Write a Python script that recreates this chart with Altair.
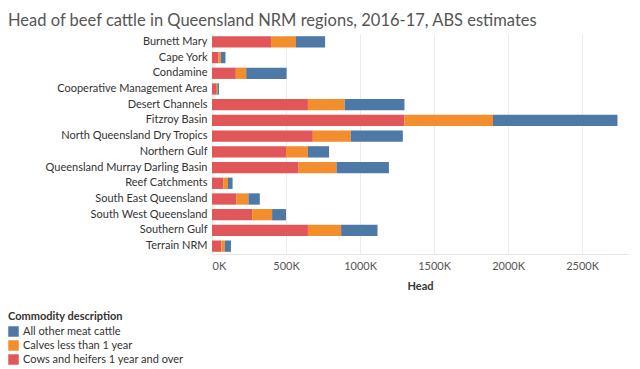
import altair as alt
import pandas as pd

regions = [
    "Burnett Mary", "Cape York", "Condamine", "Cooperative Management Area",
    "Desert Channels", "Fitzroy Basin", "North Queensland Dry Tropics",
    "Northern Gulf", "Queensland Murray Darling Basin", "Reef Catchments",
    "South East Queensland", "South West Queensland", "Southern Gulf", "Terrain NRM",
]
cows = [399000, 44000, 161000, 27000, 648000, 1300000, 681000, 500000, 585000, 76000, 166000, 271000, 648000, 63000]
calves = [168000, 16000, 70000, 9000, 248000, 598000, 256000, 148000, 256000, 32000, 80000, 135000, 224000, 24000]
other = [197000, 31000, 273000, 11000, 404000, 841000, 352000, 143000, 354000, 31000, 77000, 94000, 246000, 41000]

series = ["All other meat cattle", "Calves less than 1 year", "Cows and heifers 1 year and over"]
colors = ["#4e79a7", "#f28e2b", "#e15759"]
stack_rank = {"Cows and heifers 1 year and over": 0, "Calves less than 1 year": 1, "All other meat cattle": 2}

rows = []
for i, r in enumerate(regions):
    for name, vals in [(series[2], cows), (series[1], calves), (series[0], other)]:
        rows.append({"Region": r, "Commodity description": name, "Head": vals[i], "rank": stack_rank[name]})
df = pd.DataFrame(rows)

FONT = "Lato"

chart = alt.Chart(df).mark_bar().encode(
    y=alt.Y("Region:N", sort=regions, title=None,
            scale=alt.Scale(paddingInner=0.28, paddingOuter=0.14),
            axis=alt.Axis(labelFontSize=11, labelColor="#333", labelFont=FONT,
                          ticks=False, domain=False, grid=False, labelPadding=5, labelLimit=300)),
    x=alt.X("Head:Q", title="Head", stack="zero",
            scale=alt.Scale(domain=[0, 2810000], nice=False),
            axis=alt.Axis(values=[0, 500000, 1000000, 1500000, 2000000, 2500000],
                          labelExpr="format(datum.value/1000, 'd') + 'K'",
                          labelFontSize=11, labelColor="#555", labelFont=FONT,
                          titleFontSize=11, titleColor="#333", titleFont=FONT, titleFontWeight="bold",
                          titlePadding=9, ticks=False, domain=True, domainColor="#e6e6e6",
                          grid=True, gridColor="#ececec", labelPadding=6)),
    color=alt.Color("Commodity description:N",
                    scale=alt.Scale(domain=series, range=colors),
                    legend=alt.Legend(orient="none", legendX=-204, legendY=277,
                                      direction="vertical", symbolType="square",
                                      symbolSize=110, symbolStrokeWidth=0,
                                      titleFontSize=11, titleFont=FONT, titleColor="#333",
                                      titleFontWeight="bold", labelFontSize=11, labelFont=FONT,
                                      labelColor="#333", rowPadding=2, titlePadding=4,
                                      labelLimit=300)),
    order=alt.Order("rank:Q", sort="ascending"),
).properties(
    width=416,
    height=220,
    title=alt.TitleParams("Head of beef cattle in Queensland NRM regions, 2016-17, ABS estimates",
                          anchor="start", frame="group", fontSize=16.5, font=FONT, color="#555",
                          fontWeight="normal", dx=-204, offset=5),
    autosize=alt.AutoSizeParams(type="none"),
    padding={"left": 204, "top": 26, "right": 4, "bottom": 115},
).configure_view(stroke=None)

chart.save("out.html", embed_options={"renderer": "svg", "actions": False})
